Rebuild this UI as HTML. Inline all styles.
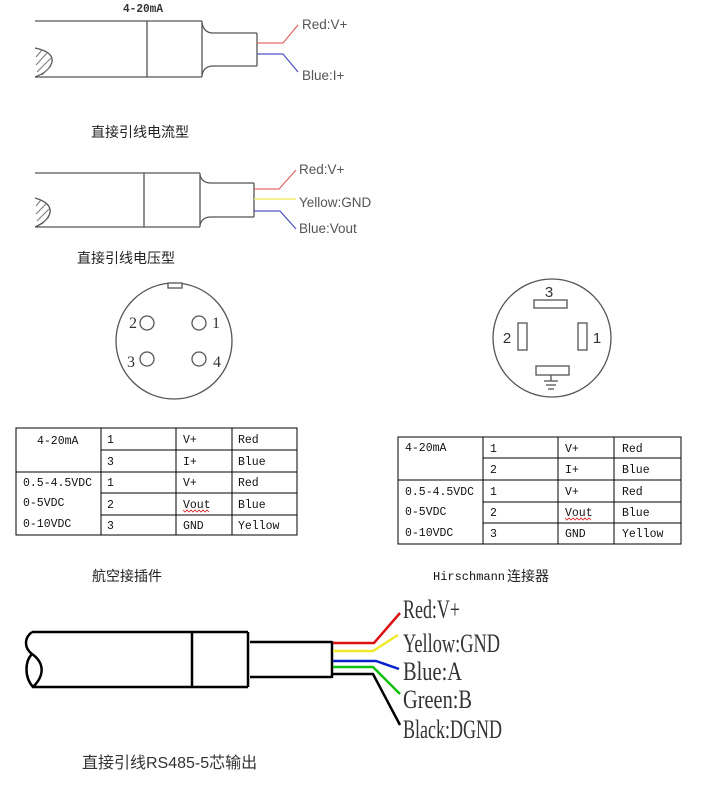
<!DOCTYPE html>
<html><head><meta charset="utf-8"><style>
html,body{margin:0;padding:0;background:#fff;}
svg{display:block;}
.cj{font-family:"Liberation Sans","Noto Sans CJK SC",sans-serif;}
.mono{font-family:"Liberation Mono","Noto Sans CJK SC",monospace;}
.sans{font-family:"Liberation Sans",sans-serif;}
.serif{font-family:"Liberation Serif",serif;}
</style></head><body>
<svg width="708" height="786" viewBox="0 0 708 786" xmlns="http://www.w3.org/2000/svg">
<rect width="708" height="786" fill="#fff"/>

<!-- ===== Diagram 1 ===== -->
<text x="123" y="12" class="mono" font-size="11.5" font-weight="bold" fill="#333" textLength="40" lengthAdjust="spacingAndGlyphs">4-20mA</text>
<g stroke="#555" stroke-width="1.3" fill="none">
  <line x1="35" y1="21" x2="202" y2="21"/>
  <line x1="35" y1="77" x2="202" y2="77"/>
  <line x1="147" y1="21" x2="147" y2="77"/>
  <line x1="202" y1="21" x2="202" y2="77"/>
  <path d="M202,23 Q204,33 213,33 L257,33"/>
  <path d="M202,75 Q204,66 213,66 L257,66"/>
  <line x1="257" y1="33" x2="257" y2="66"/>
  <path d="M35,48 Q54,52 52,62 Q49,72 35,77"/>
</g>
<g stroke="#777" stroke-width="1" fill="none">
  <line x1="36" y1="57" x2="42" y2="50"/>
  <line x1="36" y1="65" x2="47" y2="53"/>
  <line x1="37" y1="72" x2="51" y2="58"/>
  <line x1="42" y1="75" x2="51" y2="66"/>
</g>
<polyline points="257,43 283,43 298,25" fill="none" stroke="#e06a6a" stroke-width="1.3"/>
<polyline points="257,54 283,54 298,72" fill="none" stroke="#5555c8" stroke-width="1.3"/>
<text x="302" y="29" class="sans" font-size="13.5" fill="#555">Red:V+</text>
<text x="302" y="80" class="sans" font-size="13.5" fill="#555">Blue:I+</text>
<text x="91" y="137" class="cj" font-size="14" fill="#222">直接引线电流型</text>

<!-- ===== Diagram 2 ===== -->
<g stroke="#555" stroke-width="1.3" fill="none">
  <line x1="35" y1="173" x2="200" y2="173"/>
  <line x1="35" y1="227" x2="200" y2="227"/>
  <line x1="144" y1="173" x2="144" y2="227"/>
  <line x1="200" y1="173" x2="200" y2="227"/>
  <path d="M200,175 Q202,183 211,183 L254,183"/>
  <path d="M200,225 Q202,217 211,217 L254,217"/>
  <line x1="254" y1="183" x2="254" y2="217"/>
  <path d="M35,198 Q52,203 50,213 Q47,222 35,227"/>
</g>
<g stroke="#777" stroke-width="1" fill="none">
  <line x1="36" y1="206" x2="41" y2="200"/>
  <line x1="36" y1="214" x2="46" y2="204"/>
  <line x1="37" y1="221" x2="49" y2="209"/>
  <line x1="42" y1="224" x2="49" y2="217"/>
</g>
<polyline points="254,189 279,189 296,170" fill="none" stroke="#e06a6a" stroke-width="1.3"/>
<polyline points="254,199 296,199" fill="none" stroke="#eeee70" stroke-width="1.5"/>
<polyline points="254,211 280,211 296,229" fill="none" stroke="#5555c8" stroke-width="1.3"/>
<text x="299" y="174" class="sans" font-size="13.5" fill="#555">Red:V+</text>
<text x="299" y="207" class="sans" font-size="13.5" fill="#555">Yellow:GND</text>
<text x="299" y="233" class="sans" font-size="13.5" fill="#555">Blue:Vout</text>
<text x="77" y="263" class="cj" font-size="14" fill="#222">直接引线电压型</text>

<!-- ===== Connector 1 ===== -->
<g stroke="#555" stroke-width="1.3" fill="none">
  <circle cx="174" cy="341" r="58"/>
  <rect x="168" y="283" width="14" height="5" fill="#fff"/>
  <circle cx="147" cy="323" r="7"/>
  <circle cx="199" cy="323" r="7"/>
  <circle cx="147" cy="359" r="7"/>
  <circle cx="199" cy="359" r="7"/>
</g>
<g class="serif" font-size="16" fill="#333" text-anchor="middle">
  <text x="133" y="328">2</text>
  <text x="216" y="328">1</text>
  <text x="131" y="367">3</text>
  <text x="217" y="367">4</text>
</g>

<!-- ===== Connector 2 ===== -->
<g stroke="#555" stroke-width="1.3" fill="none">
  <circle cx="552" cy="338" r="59"/>
  <rect x="534" y="300" width="33" height="8"/>
  <rect x="518" y="323" width="9" height="27"/>
  <rect x="578" y="323" width="9" height="27"/>
  <rect x="536" y="366" width="33" height="9"/>
  <line x1="551" y1="375" x2="551" y2="381"/>
  <line x1="544" y1="381" x2="558" y2="381"/>
  <line x1="546" y1="385" x2="556" y2="385"/>
  <line x1="548" y1="389" x2="554" y2="389"/>
</g>
<g class="sans" font-size="15" fill="#333" text-anchor="middle">
  <text x="549" y="297">3</text>
  <text x="507" y="343">2</text>
  <text x="597" y="343">1</text>
</g>

<!-- ===== Table 1 ===== -->
<g stroke="#000" stroke-width="1" fill="none" shape-rendering="crispEdges">
  <rect x="16" y="428" width="281" height="107"/>
  <line x1="101" y1="428" x2="101" y2="535"/>
  <line x1="176" y1="428" x2="176" y2="535"/>
  <line x1="232" y1="428" x2="232" y2="535"/>
  <line x1="16" y1="472" x2="297" y2="472"/>
  <line x1="101" y1="450" x2="297" y2="450"/>
  <line x1="101" y1="493" x2="297" y2="493"/>
  <line x1="101" y1="515" x2="297" y2="515"/>
</g>
<g class="mono" font-size="11.5" fill="#111">
  <text x="37" y="444">4-20mA</text>
  <text x="23" y="486">0.5-4.5VDC</text>
  <text x="23" y="506">0-5VDC</text>
  <text x="23" y="527">0-10VDC</text>
  <text x="107" y="443">1</text>
  <text x="107" y="465">3</text>
  <text x="107" y="486">1</text>
  <text x="107" y="508">2</text>
  <text x="107" y="529">3</text>
  <text x="183" y="443">V+</text>
  <text x="183" y="465">I+</text>
  <text x="183" y="486">V+</text>
  <text x="183" y="508">Vout</text>
  <text x="183" y="529">GND</text>
  <text x="238" y="443">Red</text>
  <text x="238" y="465">Blue</text>
  <text x="238" y="486">Red</text>
  <text x="238" y="508">Blue</text>
  <text x="238" y="529">Yellow</text>
</g>
<polyline points="183,510 185,512 187,510 189,512 191,510 193,512 195,510 197,512 199,510 201,512 203,510 205,512 207,510 209,512" fill="none" stroke="#d22" stroke-width="0.8"/>

<!-- ===== Table 2 ===== -->
<g stroke="#000" stroke-width="1" fill="none" shape-rendering="crispEdges">
  <rect x="398" y="437" width="283" height="107"/>
  <line x1="483" y1="437" x2="483" y2="544"/>
  <line x1="558" y1="437" x2="558" y2="544"/>
  <line x1="614" y1="437" x2="614" y2="544"/>
  <line x1="398" y1="480" x2="681" y2="480"/>
  <line x1="483" y1="458" x2="681" y2="458"/>
  <line x1="483" y1="502" x2="681" y2="502"/>
  <line x1="483" y1="523" x2="681" y2="523"/>
</g>
<g class="mono" font-size="11.5" fill="#111">
  <text x="405" y="451">4-20mA</text>
  <text x="405" y="495">0.5-4.5VDC</text>
  <text x="405" y="515">0-5VDC</text>
  <text x="405" y="536">0-10VDC</text>
  <text x="490" y="452">1</text>
  <text x="490" y="473">2</text>
  <text x="490" y="495">1</text>
  <text x="490" y="516">2</text>
  <text x="490" y="537">3</text>
  <text x="565" y="452">V+</text>
  <text x="565" y="473">I+</text>
  <text x="565" y="495">V+</text>
  <text x="565" y="516">Vout</text>
  <text x="565" y="537">GND</text>
  <text x="622" y="452">Red</text>
  <text x="622" y="473">Blue</text>
  <text x="622" y="495">Red</text>
  <text x="622" y="516">Blue</text>
  <text x="622" y="537">Yellow</text>
</g>
<polyline points="565,518 567,520 569,518 571,520 573,518 575,520 577,518 579,520 581,518 583,520 585,518 587,520 589,518 591,520" fill="none" stroke="#d22" stroke-width="0.8"/>

<!-- captions -->
<text x="92" y="581" class="cj" font-size="14" fill="#222">航空接插件</text>
<text x="433" y="580" class="mono" font-size="12" fill="#111">Hirschmann</text>
<text x="507" y="581" class="cj" font-size="14" fill="#222">连接器</text>

<!-- ===== Bottom cable ===== -->
<g stroke="#000" stroke-width="2.5" fill="none">
  <line x1="32" y1="632" x2="248" y2="632"/>
  <line x1="32" y1="687" x2="248" y2="687"/>
  <line x1="192" y1="632" x2="192" y2="687"/>
  <line x1="248" y1="632" x2="248" y2="687"/>
  <line x1="250" y1="642" x2="332" y2="642"/>
  <line x1="250" y1="677" x2="332" y2="677"/>
  <line x1="332" y1="641" x2="332" y2="678"/>
  <path d="M32,632 C24,638 24,648 32,654 C42,661 47,673 33,687"/>
  <path d="M32,654 C25,661 24,677 33,687"/>
</g>
<g fill="none" stroke-width="2.5" stroke-linejoin="round">
  <polyline points="333,643 374,643 400,613" stroke="#dd1111"/>
  <polyline points="333,651 373,651 398,635" stroke="#f0ea2a"/>
  <polyline points="333,661 376,661 399,669" stroke="#0a22cc"/>
  <polyline points="333,667 373,667 400,694" stroke="#10c010"/>
  <polyline points="333,674 373,674 400,725" stroke="#000"/>
</g>
<g class="serif" font-size="26" fill="#333">
  <text x="403" y="618" textLength="57" lengthAdjust="spacingAndGlyphs">Red:V+</text>
  <text x="403" y="652" textLength="97" lengthAdjust="spacingAndGlyphs">Yellow:GND</text>
  <text x="403" y="680" textLength="59" lengthAdjust="spacingAndGlyphs">Blue:A</text>
  <text x="403" y="708" textLength="69" lengthAdjust="spacingAndGlyphs">Green:B</text>
  <text x="403" y="738" textLength="99" lengthAdjust="spacingAndGlyphs">Black:DGND</text>
</g>
<text x="82" y="768" class="cj" font-size="16" fill="#333">直接引线RS485-5芯输出</text>
</svg>
</body></html>
